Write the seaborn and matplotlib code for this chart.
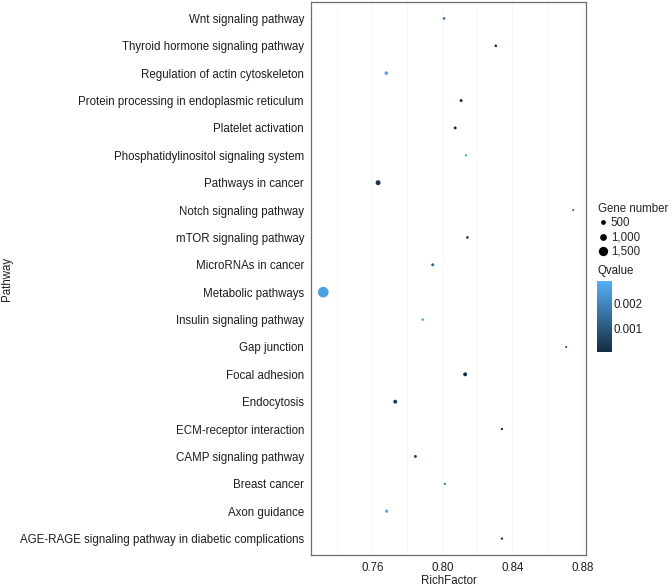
import numpy as np
import pandas as pd
import matplotlib
matplotlib.use("Agg")
import matplotlib.pyplot as plt
from matplotlib.colors import LinearSegmentedColormap, Normalize
from matplotlib.lines import Line2D
from matplotlib.ticker import MultipleLocator
import seaborn as sns

# values
pathways = [
    "Wnt signaling pathway",
    "Thyroid hormone signaling pathway",
    "Regulation of actin cytoskeleton",
    "Protein processing in endoplasmic reticulum",
    "Platelet activation",
    "Phosphatidylinositol signaling system",
    "Pathways in cancer",
    "Notch signaling pathway",
    "mTOR signaling pathway",
    "MicroRNAs in cancer",
    "Metabolic pathways",
    "Insulin signaling pathway",
    "Gap junction",
    "Focal adhesion",
    "Endocytosis",
    "ECM-receptor interaction",
    "CAMP signaling pathway",
    "Breast cancer",
    "Axon guidance",
    "AGE-RAGE signaling pathway in diabetic complications",
]
rich_factor = [0.801, 0.8305, 0.768, 0.8107, 0.8073, 0.8135, 0.7633, 0.8747,
               0.8143, 0.7945, 0.732, 0.7888, 0.8707, 0.813, 0.7731, 0.834,
               0.7846, 0.8014, 0.7682, 0.834]
gene_number = [283, 283, 585, 380, 380, 178, 910, 30, 283, 380, 1950, 283,
               30, 665, 665, 178, 380, 178, 500, 178]
qvalue = [0.0015, 0.0001, 0.0027, 0.0001, 0.0002, 0.0028, 0.0002, 0.0008,
          0.0002, 0.0012, 0.0026, 0.0029, 0.0003, 0.00001, 0.0004, 0.0002,
          0.0005, 0.0018, 0.00296, 0.0001]
size_breaks = [500, 1000, 1500]
q_ticks = [0.001, 0.002]

df = pd.DataFrame({"Pathway": pathways, "RichFactor": rich_factor,
                   "Gene": gene_number, "Qvalue": qvalue})

sns.set_theme(style="white")
plt.rcParams["font.family"] = ["Liberation Sans", "DejaVu Sans"]
plt.rcParams["font.size"] = 8.3

DPI = 100
FS = 8.3
TXT = "#1e1e1e"


def dot_area(g):
    # diameter in pixels -> marker area in pt^2
    d = 1.9 + 0.002367 * g + 1.089e-6 * g ** 2
    return (d * 72 / DPI) ** 2


cmap = LinearSegmentedColormap.from_list("gg", ["#132B43", "#56B1F7"])
norm = Normalize(vmin=min(qvalue), vmax=max(qvalue))

fig = plt.figure(figsize=(6.72, 5.86), dpi=DPI)
ax = fig.add_axes([0.4628, 0.0529, 0.4092, 0.9437])

sns.scatterplot(data=df, x="RichFactor", y="Pathway", size="Gene",
                sizes={g: dot_area(g) for g in df["Gene"].unique()},
                hue="Qvalue", palette=cmap, hue_norm=norm,
                linewidth=0, legend=False, ax=ax)

ax.set_xlim(0.725, 0.882)
ax.set_ylim(len(pathways) - 0.4, -0.6)
ax.xaxis.set_major_locator(MultipleLocator(0.04))
ax.xaxis.set_minor_locator(MultipleLocator(0.02))
ax.xaxis.set_major_formatter(matplotlib.ticker.FormatStrFormatter("%.2f"))
ax.grid(True, which="both", axis="x", color="#f6f6f6", linewidth=0.6)
ax.set_axisbelow(True)
for s in ax.spines.values():
    s.set_color("#6e6e6e")
    s.set_linewidth(0.9)
ax.tick_params(axis="both", which="major", length=3, width=0.7,
               color="#6e6e6e", labelsize=FS, labelcolor=TXT, pad=2)
ax.tick_params(axis="x", which="minor", length=0)
ax.set_xlabel("RichFactor", fontsize=FS, labelpad=1, color=TXT)
ax.set_ylabel("Pathway", fontsize=FS, color=TXT)
ax.yaxis.set_label_coords(-1.085, 0.5)

# size legend
handles = [Line2D([], [], linestyle="", marker="o", color="black",
                  markersize=np.sqrt(dot_area(b))) for b in size_breaks]
leg = ax.legend(handles, [f"{b:,}" for b in size_breaks], title="Gene number",
                loc="upper left", bbox_to_anchor=(1.015, 0.651), frameon=False,
                fontsize=FS, title_fontsize=FS, handlelength=0.8,
                handletextpad=0.3, labelspacing=0.2, borderpad=0.2,
                alignment="left")

# colour bar for Qvalue
cax = fig.add_axes([0.889, 0.399, 0.0213, 0.122])
sm = plt.cm.ScalarMappable(cmap=cmap, norm=norm)
cb = fig.colorbar(sm, cax=cax, ticks=q_ticks)
cb.outline.set_visible(False)
cb.ax.tick_params(length=3, width=0.6, color="white", direction="in",
                  labelsize=FS, pad=1, labelcolor=TXT)
cb.ax.set_yticklabels([f"{t:.3f}" for t in q_ticks])
fig.text(0.889, 0.527, "Qvalue", fontsize=FS, ha="left", va="bottom",
         color=TXT)

fig.savefig("out.png", dpi=DPI)
